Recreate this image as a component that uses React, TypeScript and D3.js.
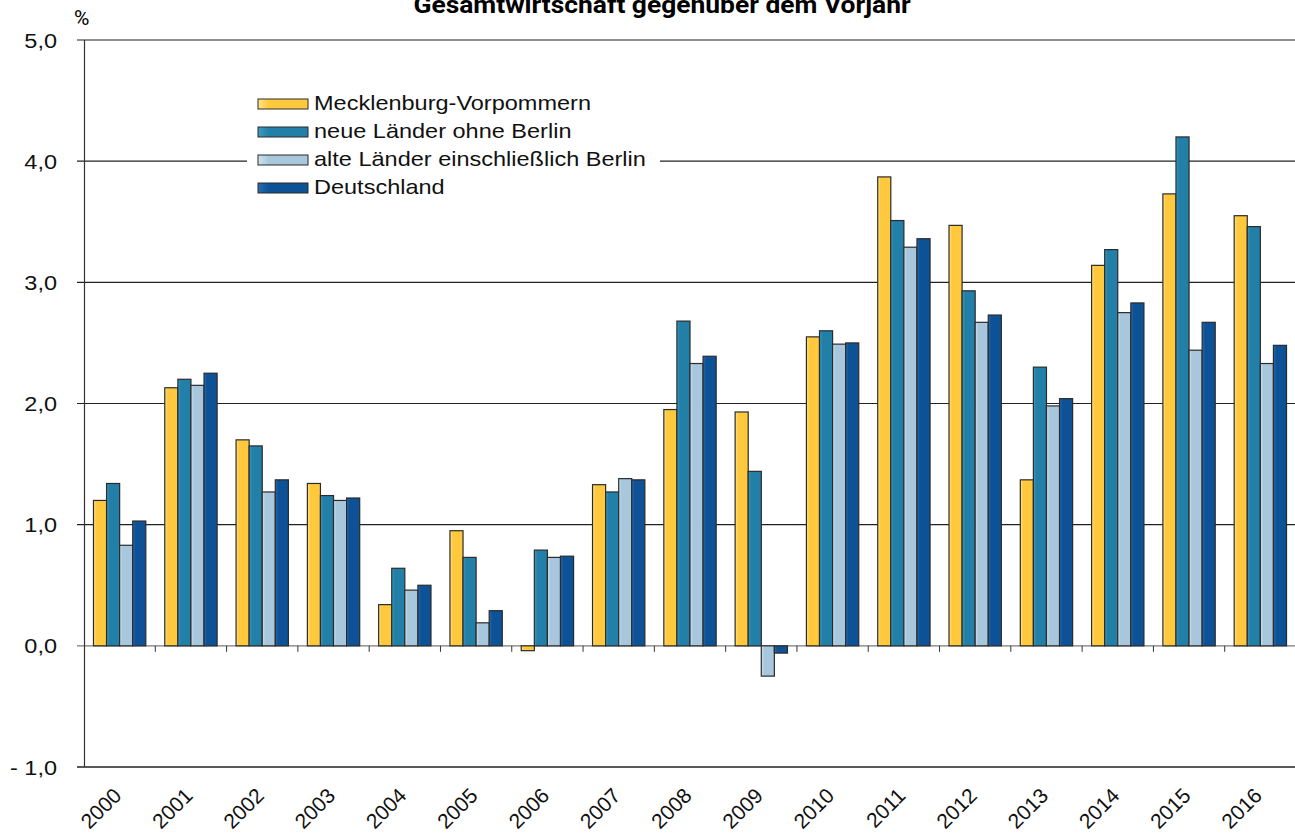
import React, { useEffect, useRef } from "react";
import * as d3 from "d3";

// growth rates per year, in %
const years = ["2000", "2001", "2002", "2003", "2004", "2005", "2006", "2007", "2008", "2009", "2010", "2011", "2012", "2013", "2014", "2015", "2016"];
const seriesNames = ["Mecklenburg-Vorpommern", "neue Länder ohne Berlin", "alte Länder einschließlich Berlin", "Deutschland"];
const mvValues = [1.2, 2.13, 1.7, 1.34, 0.34, 0.95, -0.04, 1.33, 1.95, 1.93, 2.55, 3.87, 3.47, 1.37, 3.14, 3.73, 3.55];
const neueValues = [1.34, 2.2, 1.65, 1.24, 0.64, 0.73, 0.79, 1.27, 2.68, 1.44, 2.6, 3.51, 2.93, 2.3, 3.27, 4.2, 3.46];
const alteValues = [0.83, 2.15, 1.27, 1.2, 0.46, 0.19, 0.73, 1.38, 2.33, -0.25, 2.49, 3.29, 2.67, 1.98, 2.75, 2.44, 2.33];
const deValues = [1.03, 2.25, 1.37, 1.22, 0.5, 0.29, 0.74, 1.37, 2.39, -0.06, 2.5, 3.36, 2.73, 2.04, 2.83, 2.67, 2.48];
const yTicks = [-1, 0, 1, 2, 3, 4, 5];
const colors = ["#FFC83D", "#2280A8", "#A8C6DC", "#0D5196"];
const lightColors = ["#FFE68A", "#3E9CC2", "#D2E3EF", "#2A6DB0"];

const width = 1295,
  height = 834;
const margin = { top: 40, right: -1, bottom: 67, left: 84 };
const font = "Arial, 'Liberation Sans', sans-serif";
const narrow = "'Liberation Sans Narrow', 'Arial Narrow', Roboto, sans-serif";

const fmt = (v: number) => (v < 0 ? "- " : "") + Math.abs(v).toFixed(1).replace(".", ",");

export default function App() {
  const ref = useRef<SVGSVGElement>(null);

  useEffect(() => {
    document.body.style.margin = "0";
    const svg = d3.select(ref.current);
    svg.selectAll("*").remove();

    const allSeries = [mvValues, neueValues, alteValues, deValues];

    const x = d3
      .scaleBand()
      .domain(years)
      .range([margin.left, width - margin.right]);
    const bw = x.bandwidth();
    const x1 = d3
      .scaleBand()
      .domain(seriesNames)
      .range([bw * 0.133, bw * 0.867]);
    const y = d3
      .scaleLinear()
      .domain([-1, 5])
      .range([height - margin.bottom, margin.top]);

    // gradients for the bars
    const defs = svg.append("defs");
    colors.forEach((c, i) => {
      const g = defs
        .append("linearGradient")
        .attr("id", "grad" + i)
        .attr("x1", "0%")
        .attr("x2", "100%");
      g.append("stop").attr("offset", "0%").attr("stop-color", lightColors[i]);
      g.append("stop").attr("offset", "22%").attr("stop-color", c);
      g.append("stop").attr("offset", "100%").attr("stop-color", c);
    });

    // title and unit (title is clipped at the top like in the original)
    svg
      .append("text")
      .attr("transform", "translate(662,13) scale(1.1,1)")
      .attr("text-anchor", "middle")
      .style("font-family", narrow)
      .style("font-weight", "bold")
      .style("font-size", "24px")
      .text("Gesamtwirtschaft gegenüber dem Vorjahr");
    svg
      .append("text")
      .attr("x", 74)
      .attr("y", 25)
      .style("font-family", narrow)
      .style("font-size", "21px")
      .text("%");

    // grid lines + y labels
    yTicks.forEach((t) => {
      svg
        .append("line")
        .attr("x1", margin.left - 7)
        .attr("x2", width)
        .attr("y1", y(t))
        .attr("y2", y(t))
        .attr("stroke", t === 0 ? "#7a7a7a" : "#222")
        .attr("stroke-width", t === -1 ? 1.6 : 1.2);
      svg
        .append("text")
        .attr("transform", `translate(57,${y(t) + 7.5}) scale(1.12,1)`)
        .attr("text-anchor", "end")
        .style("font-family", font)
        .style("font-size", "21px")
        .style("fill", "#111")
        .text(fmt(t));
    });

    // y axis line
    svg
      .append("line")
      .attr("x1", margin.left + 0.5)
      .attr("x2", margin.left + 0.5)
      .attr("y1", y(5))
      .attr("y2", y(-1))
      .attr("stroke", "#333")
      .attr("stroke-width", 1.2);

    // category ticks on the zero line
    years.slice(1).forEach((yr) => {
      svg
        .append("line")
        .attr("x1", x(yr)!)
        .attr("x2", x(yr)!)
        .attr("y1", y(0))
        .attr("y2", y(0) + 6)
        .attr("stroke", "#333");
    });

    // bars
    allSeries.forEach((vals, si) => {
      svg
        .append("g")
        .selectAll("rect")
        .data(vals)
        .enter()
        .append("rect")
        .attr("x", (d, i) => x(years[i])! + x1(seriesNames[si])!)
        .attr("width", x1.bandwidth())
        .attr("y", (d) => y(Math.max(0, d)))
        .attr("height", (d) => Math.abs(y(d) - y(0)))
        .attr("fill", "url(#grad" + si + ")")
        .attr("stroke", "#2b2b2b")
        .attr("stroke-width", 1.2);
    });

    // x labels
    years.forEach((yr) => {
      const cx = x(yr)! + bw / 2 + 3;
      svg
        .append("text")
        .attr("transform", `translate(${cx},797) rotate(-45)`)
        .attr("text-anchor", "end")
        .style("font-family", font)
        .style("font-size", "21px")
        .style("fill", "#111")
        .text(yr);
    });

    // legend
    const lg = svg.append("g");
    lg.append("rect").attr("x", 247).attr("y", 88).attr("width", 413).attr("height", 112).attr("fill", "white");
    seriesNames.forEach((name, i) => {
      const by = 109 + i * 28;
      lg.append("rect")
        .attr("x", 258)
        .attr("y", by - 10)
        .attr("width", 50)
        .attr("height", 10)
        .attr("fill", "url(#grad" + i + ")")
        .attr("stroke", "#2b2b2b");
      lg.append("text")
        .attr("transform", `translate(314,${by + 1}) scale(1.12,1)`)
        .style("font-family", font)
        .style("font-size", "21px")
        .style("fill", "#111")
        .text(name);
    });
  }, []);

  return <svg ref={ref} width={width} height={height} style={{ display: "block", background: "white" }} />;
}
